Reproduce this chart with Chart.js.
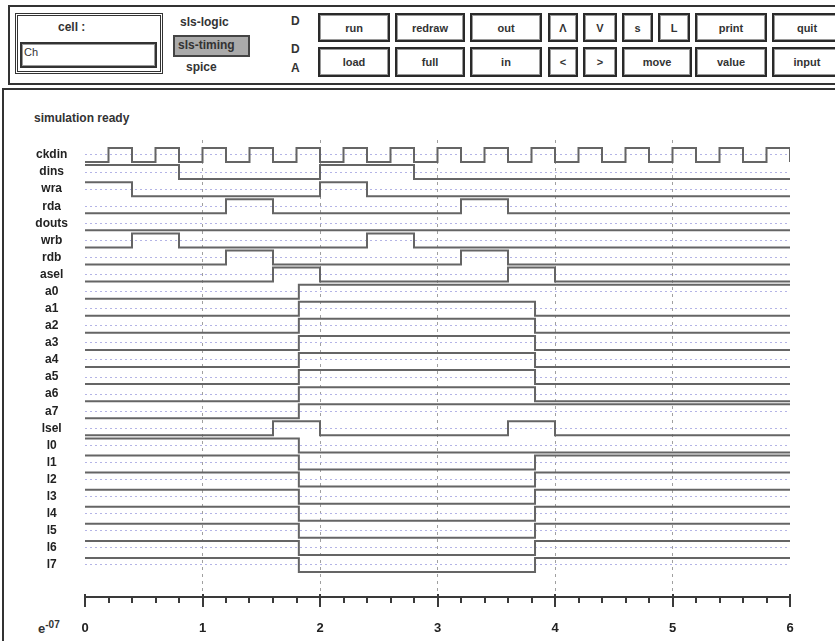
<!DOCTYPE html>
<html>
<head>
<meta charset="utf-8">
<script src="https://cdn.jsdelivr.net/npm/chart.js@4.4.0/dist/chart.umd.min.js"></script>
<style>
  body { margin: 0; width: 835px; height: 641px; overflow: hidden; background: #fff; position: relative;
         font-family: "Liberation Sans", Arial, sans-serif; color: #222; }
  .abs { position: absolute; }
  .btn { position: absolute; box-sizing: border-box; border: 2px solid #2a2a2a; box-shadow: inset 0 0 0 1px #9a9a9a;
         background: #fff; font: bold 11px "Liberation Sans", Arial, sans-serif; color: #333;
         display: flex; align-items: center; justify-content: center; }
  .lbl { position: absolute; font: bold 12px "Liberation Sans", Arial, sans-serif; color: #333; }
</style>
</head>
<body>
<div class="abs" style="left:8px;top:5px;width:835px;height:76px;border:2px solid #333;border-right:none;"></div>
<div class="abs" style="left:15px;top:13px;width:142px;height:55px;border:3px double #333;"></div>
<div class="lbl" style="left:58px;top:20px;">cell :</div>
<div class="abs" style="left:20px;top:42px;width:133px;height:22px;border:2px solid #333;box-shadow:inset 0 0 0 1px #999;"></div>
<div class="lbl" style="left:24px;top:46px;font-weight:normal;font-size:11px;">Ch</div>
<div class="lbl" style="left:180px;top:15px;">sls-logic</div>
<div class="abs" style="left:173px;top:35px;width:73px;height:18px;border:2px solid #444;background:#aaa;"></div>
<div class="lbl" style="left:178px;top:38px;">sls-timing</div>
<div class="lbl" style="left:186px;top:60px;">spice</div>
<div class="lbl" style="left:291px;top:14px;">D</div>
<div class="lbl" style="left:291px;top:42px;">D</div>
<div class="lbl" style="left:291px;top:61px;">A</div>
<div id="buttons"></div>

<div class="abs" style="left:2px;top:88px;width:835px;height:553px;border-top:2px solid #333;border-left:2px solid #333;"></div>
<div class="lbl" style="left:34px;top:111px;font-size:12px;">simulation ready</div>
<div class="lbl" style="left:38px;top:619px;font-size:13px;">e<sup style="font-size:10px;">-07</sup></div>

<canvas id="timing" class="abs" style="left:0;top:90px;" width="835" height="551"></canvas>

<script>
// Signal names (top to bottom)
const signalNames = ['ckdin', 'dins', 'wra', 'rda', 'douts', 'wrb', 'rdb', 'asel',
    'a0', 'a1', 'a2', 'a3', 'a4', 'a5', 'a6', 'a7',
    'lsel', 'l0', 'l1', 'l2', 'l3', 'l4', 'l5', 'l6', 'l7'];

// Level at t = 0 for each signal (1 = high)
const startLevels = [0, 1, 1, 0, 0, 0, 0, 0,
    0, 0, 0, 0, 0, 0, 0, 0,
    0, 1, 1, 1, 1, 1, 1, 1, 1];

// Toggle times (units of 1e-7 s)
const ckdinToggles = [0.2, 0.4, 0.6, 0.8, 1.0, 1.2, 1.4, 1.6, 1.8, 2.0, 2.2, 2.4, 2.6, 2.8, 3.0,
    3.2, 3.4, 3.6, 3.8, 4.0, 4.2, 4.4, 4.6, 4.8, 5.0, 5.2, 5.4, 5.6, 5.8, 6.0];
const dinsToggles = [0.8, 2.0, 2.8];
const wraToggles = [0.4, 2.0, 2.4];
const rdaToggles = [1.2, 1.6, 3.2, 3.6];
const doutsToggles = [];
const wrbToggles = [0.4, 0.8, 2.4, 2.8];
const rdbToggles = [1.2, 1.6, 3.2, 3.6];
const aselToggles = [1.6, 2.0, 3.6, 4.0];
const aBusHoldToggles = [1.82];        // a0, a7
const aBusToggles = [1.82, 3.83];      // a1..a6
const lselToggles = [1.6, 2.0, 3.6, 4.0];
const lBusHoldToggles = [1.82];        // l0
const lBusToggles = [1.82, 3.83];      // l1..l7

const signalToggles = [ckdinToggles, dinsToggles, wraToggles, rdaToggles, doutsToggles, wrbToggles, rdbToggles, aselToggles,
    aBusHoldToggles, aBusToggles, aBusToggles, aBusToggles, aBusToggles, aBusToggles, aBusToggles, aBusHoldToggles,
    lselToggles, lBusHoldToggles, lBusToggles, lBusToggles, lBusToggles, lBusToggles, lBusToggles, lBusToggles, lBusToggles];

// X axis range
const timeMin = 0;
const timeMax = 6;

// Toolbar buttons: label, left, top, width, height
const toolButtons = [
    ['run', 318, 13, 72, 29], ['redraw', 395, 13, 70, 29], ['out', 470, 13, 72, 29],
    ['\u039b', 548, 13, 30, 29], ['V', 583, 13, 34, 29], ['s', 622, 13, 31, 29], ['L', 658, 13, 32, 29],
    ['print', 695, 13, 72, 29], ['quit', 772, 13, 70, 29],
    ['load', 318, 47, 72, 30], ['full', 395, 47, 70, 30], ['in', 470, 47, 72, 30],
    ['<', 548, 47, 30, 30], ['>', 583, 47, 34, 30], ['move', 622, 47, 70, 30],
    ['value', 695, 47, 72, 30], ['input', 772, 47, 70, 30]
];

const buttonBox = document.getElementById('buttons');
toolButtons.forEach(function(b) {
    const el = document.createElement('div');
    el.className = 'btn';
    el.textContent = b[0];
    el.style.left = b[1] + 'px';
    el.style.top = b[2] + 'px';
    el.style.width = b[3] + 'px';
    el.style.height = b[4] + 'px';
    buttonBox.appendChild(el);
});

// Row swing in y units (row pitch = 1)
const swing = 0.82;

function levelY(row, level) {
    return row + swing / 2 - swing * level;
}

function buildSteps(row) {
    let level = startLevels[row];
    const pts = [{ x: timeMin, y: levelY(row, level) }];
    signalToggles[row].forEach(function(t) {
        level = 1 - level;
        pts.push({ x: t, y: levelY(row, level) });
    });
    const last = pts[pts.length - 1];
    if (last.x < timeMax) pts.push({ x: timeMax, y: last.y });
    return pts;
}

const datasets = signalNames.map(function(name, i) {
    return {
        label: name,
        data: buildSteps(i),
        stepped: true,
        borderColor: '#656565',
        borderWidth: 2,
        pointRadius: 0,
        fill: false
    };
});

function isWhole(v) {
    return Math.abs(v - Math.round(v)) < 1e-6;
}

// Bottom axis line with minor/major ticks
const axisTicks = {
    id: 'axisTicks',
    afterDraw(chart) {
        const xs = chart.scales.x;
        const ctx = chart.ctx;
        const y0 = chart.chartArea.bottom;
        ctx.save();
        ctx.strokeStyle = '#3a3a3a';
        ctx.lineWidth = 2;
        ctx.beginPath();
        ctx.moveTo(xs.left, y0);
        ctx.lineTo(xs.right, y0);
        xs.ticks.forEach(function(t) {
            const px = Math.round(xs.getPixelForValue(t.value));
            const major = isWhole(t.value);
            ctx.moveTo(px, y0 - (major ? 3 : 0));
            ctx.lineTo(px, y0 + (major ? 10 : 6));
        });
        ctx.stroke();
        ctx.restore();
    }
};

new Chart(document.getElementById('timing'), {
    type: 'line',
    data: { datasets: datasets },
    options: {
        responsive: false,
        animation: false,
        events: [],
        layout: { padding: { top: 50, right: 45, left: 0, bottom: 0 } },
        plugins: { legend: { display: false }, tooltip: { enabled: false } },
        scales: {
            x: {
                type: 'linear',
                min: timeMin,
                max: timeMax,
                afterFit: function(scale) { scale.height = 44; },
                ticks: {
                    stepSize: 0.2,
                    autoSkip: false,
                    maxRotation: 0,
                    padding: 24,
                    color: '#222',
                    font: { family: 'Liberation Sans', size: 13, weight: 'bold' },
                    callback: function(v) { return isWhole(v) ? String(Math.round(v)) : ''; }
                },
                grid: {
                    drawTicks: false,
                    lineWidth: 1,
                    color: function(c) {
                        const v = c.tick ? c.tick.value : 0;
                        return (isWhole(v) && v > timeMin && v < timeMax) ? '#a0a0a0' : 'rgba(0,0,0,0)';
                    }
                },
                border: { display: false, dash: [3, 4] }
            },
            y: {
                type: 'linear',
                reverse: true,
                min: -0.878,
                max: 25.874,
                afterFit: function(scale) { scale.width = 85; },
                afterBuildTicks: function(scale) {
                    scale.ticks = signalNames.map(function(n, i) { return { value: i }; });
                },
                ticks: {
                    autoSkip: false,
                    padding: 17,
                    crossAlign: 'center',
                    color: '#222',
                    font: { family: 'Liberation Sans', size: 12, weight: 'bold' },
                    callback: function(v) { return signalNames[v]; }
                },
                grid: { drawTicks: false, color: '#b4b4e6', lineWidth: 1 },
                border: { display: false, dash: [2, 3] }
            }
        }
    },
    plugins: [axisTicks]
});
</script>
</body>
</html>
